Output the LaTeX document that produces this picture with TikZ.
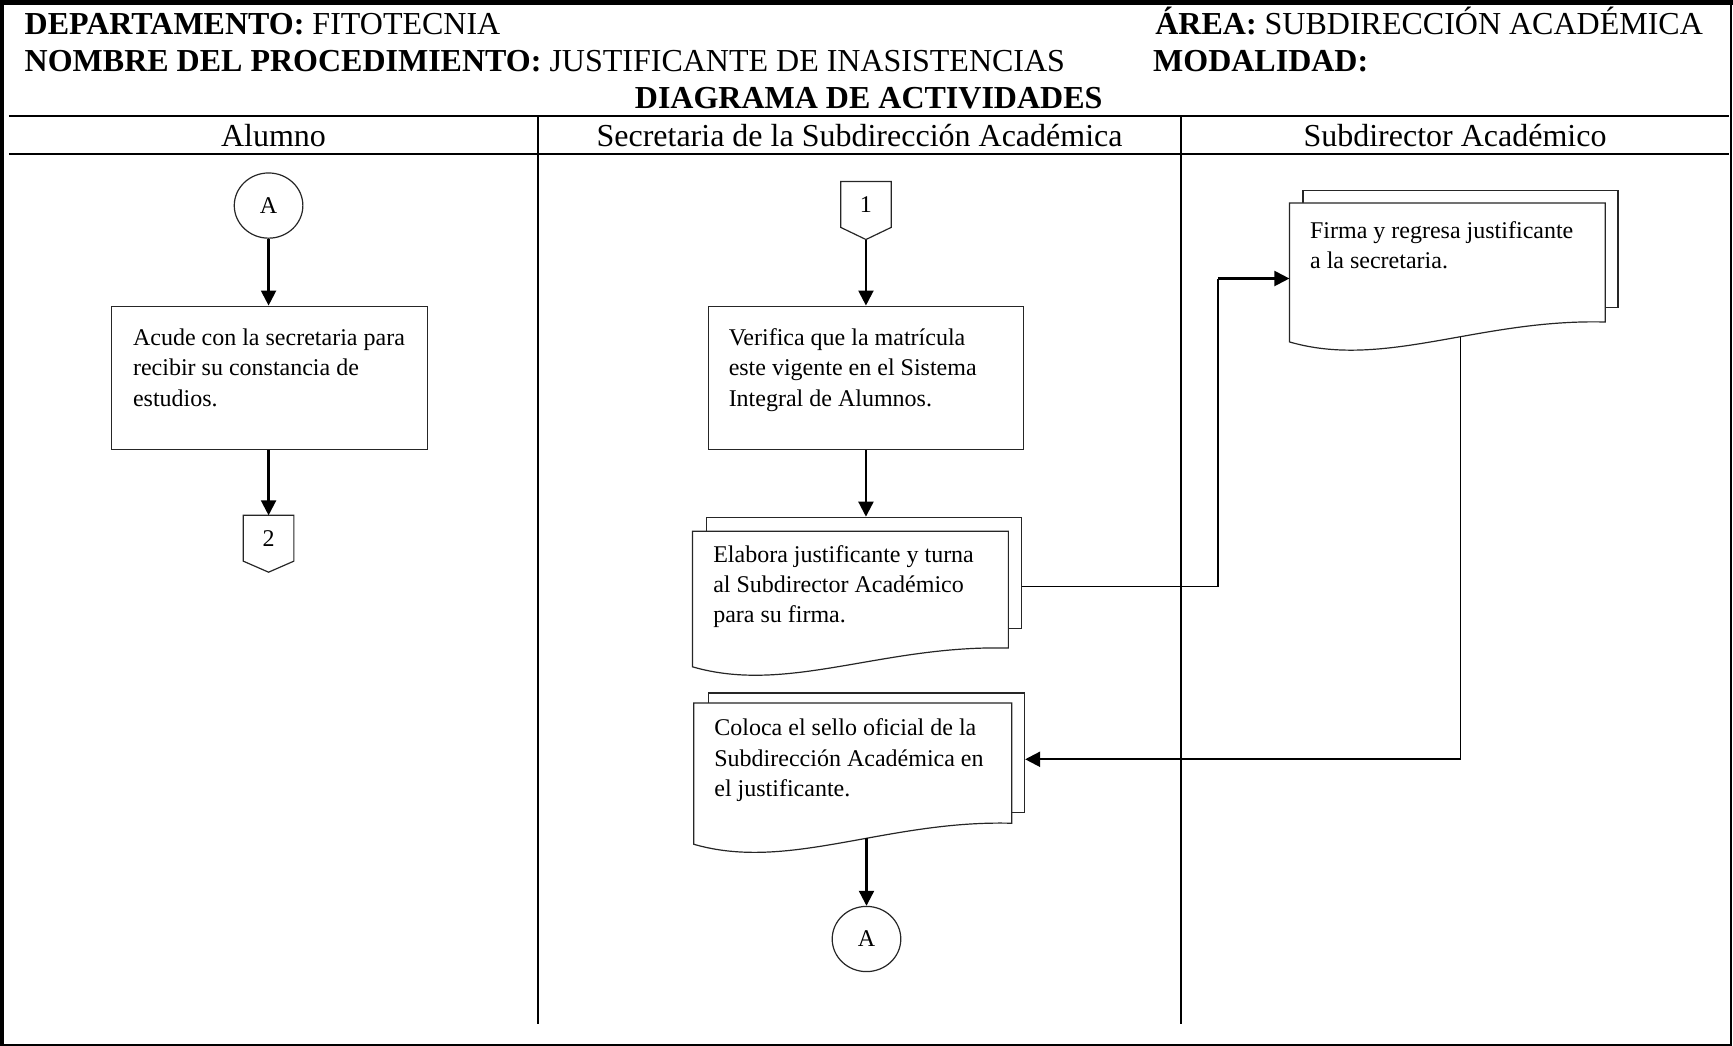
\documentclass[tikz,border=0pt]{standalone}
\usepackage{fontspec}
\setmainfont{Liberation Serif}
\usetikzlibrary{arrows.meta,calc,fit,shapes.geometric}
\newcommand\mydocfront[2]{%
  \draw[shp] (#1.north west) -- (#1.north east) -- (#1.south east)
    .. controls ($(#1.south east)+(-114,-3)$) and ($(#1.south west)+(86,#2+25)$) ..
    ($(#1.south west)+(0,#2)$) coordinate[pos=0.42] (#1w) -- cycle;}
\newcommand\myoffpage[2]{%
  \draw[shp,fill=none] (#1.north west) -- (#1.north east) -- (#1.south east)
    -- ($(#1.south)+(0,#2)$) coordinate (#1tip) -- (#1.south west) -- cycle;}
\begin{document}
\begin{tikzpicture}[x=0.5526pt,y=-0.5526pt,
  hdr/.style={font=\fontsize{16}{18.4}\selectfont, inner sep=0pt},
  txt/.style={anchor=north west, inner sep=0pt, align=left, font=\fontsize{12}{15.2}\selectfont},
  shp/.style={draw=black!85, line width=0.6pt, fill=white},
  boxnode/.style={shp, inner sep=0pt},
  sheet/.style={inner sep=0pt},
  conn/.style={shp, ellipse, inner sep=0pt, minimum width=34.3pt, minimum height=32.6pt, font=\fontsize{12}{14}\selectfont},
  offp/.style={inner sep=0pt, minimum width=24.9pt, minimum height=22.5pt, font=\fontsize{12}{14}\selectfont},
  arr/.style={line width=1.1pt, -{Triangle[length=7.5pt,width=7.5pt]}},
  thinline/.style={line width=0.6pt},
  frame/.style={line width=#1},
]
\useasboundingbox (0,0) rectangle (1568,946);
% frame
\draw[frame=2.4pt] (1.8,946) -- (1.8,2.2) -- (1568,2.2);
\draw[frame=1pt] (1566.3,2.2) -- (1566.3,945.5) -- (1.8,945.5);
\draw[frame=1.2pt] (8,104.7) -- (1564.5,104.7);
\draw[frame=1.2pt] (8,139.1) -- (1564.5,139.1);
\draw[frame=1pt] (486.5,104.7) -- (486.5,926.5);
\draw[frame=1pt] (1068.6,104.7) -- (1068.6,926.5);
% header texts
\node[hdr, anchor=base west] (h1) at (22,31) {\textbf{DEPARTAMENTO:} FITOTECNIA};
\node[hdr, anchor=base west] (h2) at (22,65) {\textbf{NOMBRE DEL PROCEDIMIENTO:} JUSTIFICANTE DE INASISTENCIAS};
\node[hdr, anchor=base west] (h3) at (1045,31) {\textbf{ÁREA:} SUBDIRECCIÓN ACADÉMICA};
\node[hdr, anchor=base west] (h4) at (1043,65) {\textbf{MODALIDAD:}};
\node[hdr, anchor=base] (h5) at (786,98) {\textbf{DIAGRAMA DE ACTIVIDADES}};
\node[hdr, anchor=base] (l1) at (247.5,133) {Alumno};
\node[hdr, anchor=base] (l2) at (777.7,133) {Secretaria de la Subdirección Académica};
\node[hdr, anchor=base] (l3) at (1316.5,133) {Subdirector Académico};
% lane 1
\node[conn] (A1) at (243,186) {A};
\node[boxnode, fit={(101,277) (387,407)}] (b1) {};
\node[txt] (b1t) at (120,297) {Acude con la secretaria para\\recibir su constancia de\\estudios.};
\node[offp] (c2) at (243,487) {2};
\myoffpage{c2}{10}
% lane 2
\node[offp] (c1) at (783.5,185) {1};
\myoffpage{c1}{11}
\node[boxnode, fit={(641,277) (926,407)}] (b2) {};
\node[txt] (b2t) at (659,297) {Verifica que la matrícula\\este vigente en el Sistema\\Integral de Alumnos.};
% doc 1
\node[shp, sheet, fit={(639,468) (924,569)}] (d1b) {};
\node[sheet, fit={(627,481) (912,586)}] (d1f) {};
\mydocfront{d1f}{17}
\node[txt] (d1t) at (645,493) {Elabora justificante y turna\\al Subdirector Académico\\para su firma.};
% doc 2
\node[shp, sheet, fit={(641,627) (927,735)}] (d2b) {};
\node[sheet, fit={(628,636.5) (915,744.5)}] (d2f) {};
\mydocfront{d2f}{19}
\node[txt] (d2t) at (646,650) {Coloca el sello oficial de la\\Subdirección Académica en\\el justificante.};
\node[conn] (A2) at (784,849.6) {A};
% lane 3 doc 3
\node[shp, sheet, fit={(1179,172.5) (1464,278.5)}] (d3b) {};
\node[sheet, fit={(1167,184) (1452,291)}] (d3f) {};
\mydocfront{d3f}{18}
\node[txt] (d3t) at (1185,200) {Firma y regresa justificante\\a la secretaria.};
% connectors
\draw[arr] (A1.south) -- (A1.south |- b1.north);
\draw[arr] (c2.north |- b1.south) -- (c2.north);
\draw[arr] (c1tip) -- (c1tip |- b2.north);
\draw[arr] (b2.south) -- (b2.south |- d1b.north);
\draw[arr] (A2.north |- d2fw) -- (A2.north);
\coordinate (j1a) at (1102,531);
\coordinate (j1b) at (1102,252);
\draw[thinline] (d1b.east |- j1a) -- (j1a) -- (j1b);
\draw[arr] (j1b) -- (d3f.west |- j1b);
\coordinate (j2) at (1320.5,687);
\draw[thinline] (d3fw) -- (d3fw |- j2);
\draw[arr] (d3fw |- j2) -- (d2b.east |- j2);
\end{tikzpicture}
\end{document}
